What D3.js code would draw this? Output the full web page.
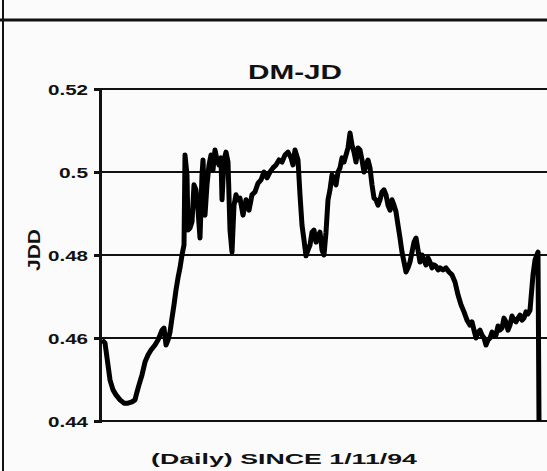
<!DOCTYPE html>
<html><head><meta charset="utf-8">
<script src="https://cdn.jsdelivr.net/npm/d3@7"></script>
<style>html,body{margin:0;padding:0;background:#fbfbfb;}svg{display:block;}</style>
</head><body>
<script>
const title = "DM-JD";
const yTitle = "JDD";
const xTitle = "(Daily) SINCE 1/11/94";
const yTicks = [0.44, 0.46, 0.48, 0.5, 0.52];
const yTickLabels = ["0.44", "0.46", "0.48", "0.5", "0.52"];
const days = [2,5,8,10,13,16,20,24,28,32,35,37,39,42,45,48,51,55,58,60,62,64,66,68,70,72,74,76,78,80,82,84,85,87,88,90,92,94,96,98,100,102,103,105,107,109,111,113,115,117,119,121,122,124,126,128,130,132,134,136,138,140,143,146,149,152,155,158,161,164,167,170,173,176,179,182,185,188,191,193,195,198,200,202,204,206,208,210,212,214,216,218,220,222,224,226,228,230,232,234,236,238,240,242,244,246,248,250,252,254,256,258,260,262,264,266,268,270,272,274,276,278,280,282,284,286,288,290,292,294,296,298,300,302,304,306,308,310,312,314,316,318,320,322,324,326,328,330,332,334,336,338,340,343,346,349,352,355,358,361,364,367,370,372,374,376,378,380,382,384,386,388,390,392,394,396,398,400,402,404,406,408,410,412,414,416,418,420,422,424,426,428,430,433,435,438,439];
const jdd = [0.4595,0.4588,0.4535,0.4499,0.4475,0.4463,0.4451,0.4443,0.4443,0.4446,0.4451,0.4470,0.4487,0.4511,0.4542,0.4559,0.4571,0.4583,0.4595,0.4607,0.4619,0.4624,0.4583,0.4595,0.4614,0.4648,0.4680,0.4716,0.4745,0.4769,0.4800,0.4824,0.5041,0.4993,0.4860,0.4865,0.4880,0.4969,0.4957,0.4908,0.4841,0.4993,0.5029,0.4896,0.4969,0.5017,0.5041,0.5005,0.5053,0.5029,0.5017,0.5034,0.4933,0.5029,0.5048,0.5024,0.4860,0.4807,0.4920,0.4945,0.4933,0.4937,0.4896,0.4933,0.4908,0.4945,0.4952,0.4973,0.4981,0.5000,0.4986,0.5000,0.5010,0.5017,0.5029,0.5024,0.5041,0.5048,0.5034,0.5017,0.5053,0.5029,0.4945,0.4872,0.4836,0.4798,0.4812,0.4824,0.4855,0.4860,0.4831,0.4846,0.4855,0.4812,0.4800,0.4855,0.4933,0.4957,0.4993,0.4981,0.4969,0.5000,0.5010,0.5034,0.5024,0.5041,0.5058,0.5094,0.5065,0.5048,0.5024,0.5058,0.5053,0.5029,0.5000,0.5017,0.5029,0.5010,0.4969,0.4937,0.4933,0.4920,0.4933,0.4952,0.4957,0.4945,0.4920,0.4908,0.4933,0.4920,0.4904,0.4872,0.4841,0.4807,0.4783,0.4759,0.4769,0.4783,0.4807,0.4831,0.4841,0.4812,0.4783,0.4800,0.4788,0.4776,0.4793,0.4783,0.4769,0.4776,0.4773,0.4764,0.4769,0.4764,0.4769,0.4759,0.4752,0.4735,0.4704,0.4680,0.4663,0.4643,0.4631,0.4639,0.4619,0.4600,0.4614,0.4619,0.4607,0.4600,0.4583,0.4595,0.4600,0.4614,0.4605,0.4607,0.4629,0.4619,0.4624,0.4648,0.4639,0.4619,0.4631,0.4653,0.4643,0.4639,0.4648,0.4655,0.4643,0.4648,0.4663,0.4658,0.4667,0.4752,0.4788,0.4807,0.4400];

const W = 547, H = 471;
const font = "Arial, 'Liberation Sans', sans-serif";
const svg = d3.select("body").append("svg").attr("width", W).attr("height", H);
svg.append("rect").attr("width", W).attr("height", H).attr("fill", "#fbfbfb");

// frame lines
svg.append("line").attr("x1", 0).attr("x2", W).attr("y1", 20).attr("y2", 20).attr("stroke", "#111").attr("stroke-width", 3);
svg.append("line").attr("x1", 3).attr("x2", 3).attr("y1", 0).attr("y2", H).attr("stroke", "#111").attr("stroke-width", 2);

const x = d3.scaleLinear().domain([0, 447]).range([100, 547]);
const y = d3.scaleLinear().domain([0.44, 0.52]).range([421, 89]);

// gridlines
svg.append("g").selectAll("line").data(yTicks).join("line")
  .attr("x1", 100).attr("x2", W).attr("y1", d => y(d)).attr("y2", d => y(d))
  .attr("stroke", "#111").attr("stroke-width", 2);

// y axis
const yAxis = d3.axisLeft(y).tickValues(yTicks).tickFormat((d, i) => yTickLabels[i]).tickSize(6).tickPadding(6);
const gy = svg.append("g").attr("transform", "translate(100,0)").call(yAxis);
gy.select(".domain").attr("stroke", "#111").attr("stroke-width", 3);
gy.selectAll(".tick line").attr("stroke", "#111").attr("stroke-width", 3);
gy.selectAll(".tick text").attr("fill", "#111")
  .style("font-family", font).style("font-weight", "bold").style("font-size", "15px")
  .attr("dy", "0.35em")
  .attr("textLength", (d, i) => yTickLabels[i].length === 3 ? 29 : 40)
  .attr("lengthAdjust", "spacingAndGlyphs");

// data line
const line = d3.line().x((d, i) => x(days[i])).y(d => y(d));
svg.append("path").datum(jdd).attr("d", line).attr("fill", "none")
  .attr("stroke", "#000").attr("stroke-width", 5).attr("stroke-linejoin", "round");

// titles
svg.append("text").attr("x", 295).attr("y", 79).attr("text-anchor", "middle")
  .style("font-family", font).style("font-size", "20px").style("font-weight", "bold")
  .attr("textLength", 94).attr("lengthAdjust", "spacingAndGlyphs")
  .attr("fill", "#111").text(title);
svg.append("text").attr("transform", "translate(40,250) rotate(-90)").attr("text-anchor", "middle")
  .style("font-family", font).style("font-size", "16px").style("font-weight", "bold")
  .attr("textLength", 42).attr("lengthAdjust", "spacingAndGlyphs")
  .attr("fill", "#111").text(yTitle);
svg.append("text").attr("x", 284).attr("y", 464).attr("text-anchor", "middle")
  .style("font-family", font).style("font-size", "15px").style("font-weight", "bold")
  .attr("textLength", 266).attr("lengthAdjust", "spacingAndGlyphs")
  .attr("fill", "#111").text(xTitle);
</script>
</body></html>
